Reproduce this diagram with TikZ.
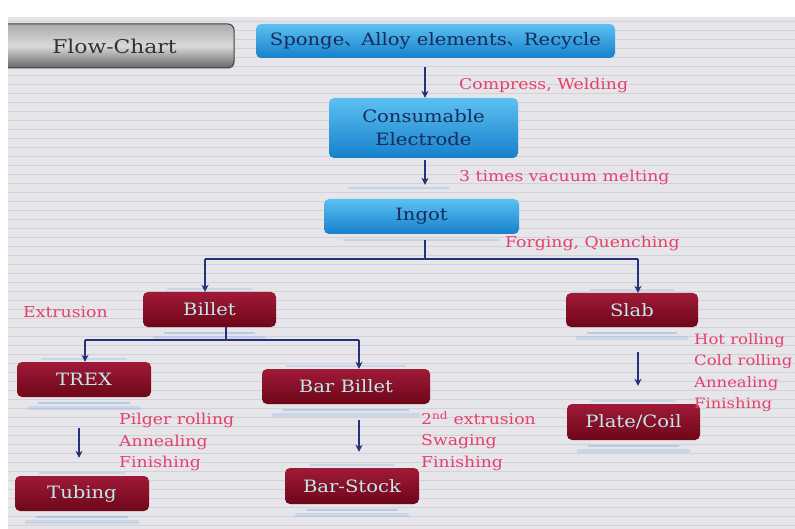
\documentclass[tikz,border=0pt]{standalone}
\usepackage{fontspec}
\setmainfont[FakeStretch=1.15]{DejaVu Serif}
\newfontfamily\cjk{Noto Sans CJK SC}
\usetikzlibrary{arrows.meta,calc}
\definecolor{bgc}{HTML}{E6E6EA}
\definecolor{linec}{HTML}{D2D2D8}
\definecolor{navy}{HTML}{27307A}
\definecolor{bluetxt}{HTML}{172A5C}
\definecolor{blueA}{HTML}{5CC0F0}
\definecolor{blueB}{HTML}{1680CC}
\definecolor{redA}{HTML}{A01A38}
\definecolor{redB}{HTML}{6E0618}
\definecolor{redtxt}{HTML}{BDEBEB}
\definecolor{pink}{HTML}{E5406C}
\definecolor{glowc}{HTML}{5A9AE0}
\begin{document}
\begin{tikzpicture}[x=1pt,y=-1pt,
  bluebox/.style={rounded corners=5pt, top color=blueA, bottom color=blueB, text=bluetxt,
    font=\fontsize{17}{23}\selectfont, inner sep=0pt, align=center},
  redbox/.style={rounded corners=5pt, top color=redA, bottom color=redB, text=redtxt,
    font=\fontsize{17}{20}\selectfont, inner sep=0pt, align=center},
  greybox/.style={rounded corners=6pt, draw=gray!50!black, line width=1pt,
    shade, shading=axis, top color=gray!65, bottom color=gray!80!black, middle color=gray!30,
    text=black!80, font=\fontsize{19}{22}\selectfont, inner sep=0pt},
  lbl/.style={text=pink, font=\fontsize{15}{20}\selectfont, anchor=west, inner sep=0pt},
  mlbl/.style={lbl, align=left, anchor=north west, font=\fontsize{15}{21.5}\selectfont},
  arr/.style={navy, line width=1.5pt, -{Stealth[length=7pt,width=7pt]}},
  ln/.style={navy, line width=1.5pt},
  glow/.style={glowc, opacity=0.35, line width=2.5pt, line cap=round}
]
\useasboundingbox (0,0) rectangle (795,529);
\clip (0,0) rectangle (795,529);
\fill[white] (0,0) rectangle (795,529);
\fill[bgc] (8,17) rectangle (795,529);
\foreach \yy in {21,30,...,529} \draw[linec, line width=0.7pt] (8,\yy) -- (795,\yy);

% nodes
\node[greybox, minimum width=233pt, minimum height=44pt] (fc) at (117.5,46) {\hspace*{-6pt}Flow-Chart};
\fill[white] (0,17) rectangle (8,529);
\node[bluebox, minimum width=359pt, minimum height=34pt] (src) at (435.5,41) {Sponge{\cjk 、}Alloy elements{\cjk 、}Recycle};
\node[bluebox, minimum width=189pt, minimum height=60pt] (elec) at (423.5,128) {Consumable\\Electrode};
\node[bluebox, minimum width=195pt, minimum height=35pt] (ingot) at (421.5,216.5) {Ingot};
\node[redbox, minimum width=133pt, minimum height=35pt] (billet) at (209.5,309.5) {Billet};
\node[redbox, minimum width=132pt, minimum height=34pt] (slab) at (632,310) {Slab};
\node[redbox, minimum width=134pt, minimum height=35pt] (trex) at (84,379.5) {TREX};
\node[redbox, minimum width=168pt, minimum height=35pt] (barbillet) at (346,386.5) {Bar Billet};
\node[redbox, minimum width=134pt, minimum height=35pt] (tubing) at (82,493.5) {Tubing};
\node[redbox, minimum width=134pt, minimum height=36pt] (barstock) at (352,486) {Bar-Stock};
\node[redbox, minimum width=133pt, minimum height=36pt] (plate) at (633.5,422) {Plate/Coil};

% glows
\foreach \n in {billet,slab,trex,barbillet,tubing,barstock,plate}{
  \draw[glow] ($(\n.south west)+(22,6)$) -- ($(\n.south east)+(-22,6)$);
  \draw[glow, opacity=0.2, line width=4pt] ($(\n.south west)+(12,11)$) -- ($(\n.south east)+(-12,11)$);
  \draw[glow, opacity=0.2] ($(\n.north west)+(25,-3)$) -- ($(\n.north east)+(-25,-3)$);
}
\draw[glow, opacity=0.25] ($(elec.south west)+(20,30)$) -- ($(elec.south east)+(-70,30)$);
\draw[glow, opacity=0.25] ($(ingot.south west)+(20,6)$) -- ($(ingot.south east)+(-20,6)$);

% labels
\node[lbl] (l1) at (459,85) {Compress, Welding};
\node[lbl] (l2) at (459,177) {3 times vacuum melting};
\node[lbl] (l3) at (505,243) {Forging, Quenching};
\node[lbl] (l4) at (23,312) {Extrusion};
\node[mlbl] (l5) at (119,413) {Pilger rolling\\Annealing\\Finishing};
\node[mlbl] (l6) at (421,411) {2\textsuperscript{nd} extrusion\\Swaging\\Finishing};
\node[mlbl, font=\fontsize{14.3}{21.5}\selectfont] (l7) at (694,333) {Hot rolling\\Cold rolling\\Annealing\\Finishing};

% connectors
\coordinate (a1) at (425,67);
\coordinate (a2) at (425,160);
\draw[arr] (a1) -- (elec.north -| a1);
\draw[arr] (a2) -- ($(ingot.north -| a2)+(0,-14)$);
\coordinate (j1) at (425,259);
\coordinate (j1l) at (205,259);
\coordinate (j1r) at (638,259);
\draw[ln] ($(j1)+(0,-19)$) -- (j1);
\draw[ln] (j1l) -- (j1r);
\draw[arr] (j1l) -- (billet.north -| j1l);
\draw[arr] (j1r) -- (slab.north -| j1r);
\coordinate (j2) at (226,340);
\coordinate (j2l) at (85,340);
\coordinate (j2r) at (359,340);
\draw[ln] (billet.south -| j2) -- (j2);
\draw[ln] (j2l) -- (j2r);
\draw[arr] (j2l) -- (trex.north -| j2l);
\draw[arr] (j2r) -- (barbillet.north -| j2r);
\coordinate (t1) at (79,428);
\draw[arr] (t1) -- ($(tubing.north -| t1)+(0,-18)$);
\coordinate (b1) at (359,420);
\draw[arr] (b1) -- ($(barstock.north -| b1)+(0,-16)$);
\coordinate (s1) at (638,352);
\draw[arr] (s1) -- ($(plate.north -| s1)+(0,-18)$);
\end{tikzpicture}
\end{document}
